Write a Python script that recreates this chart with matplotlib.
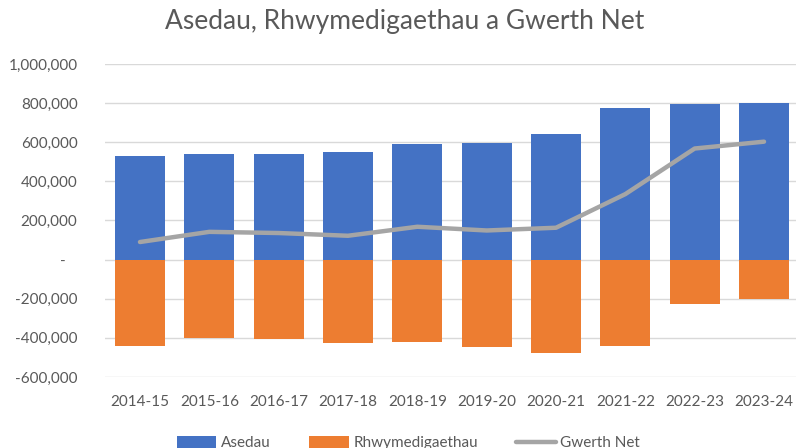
import matplotlib.pyplot as plt
import numpy as np
from matplotlib.ticker import FuncFormatter, MultipleLocator

plt.rcParams['font.family'] = ['Lato', 'DejaVu Sans']

years = ['2014-15', '2015-16', '2016-17', '2017-18', '2018-19',
         '2019-20', '2020-21', '2021-22', '2022-23', '2023-24']
asedau = [529000, 539000, 539000, 550000, 590000, 595000, 641000, 777000, 794000, 803000]
rhwymedigaethau = [-441000, -400000, -405000, -425000, -420000, -446000, -477000, -441000, -227000, -200000]
gwerth_net = [90000, 142000, 136000, 122000, 168000, 149000, 163000, 335000, 568000, 603000]

W, H = 796, 448
fig = plt.figure(figsize=(W / 100, H / 100), dpi=100)
ax = fig.add_axes([105.3 / W, 1 - 377 / H, 693.4 / W, 313 / H])

x = np.arange(len(years))
b1 = ax.bar(x, asedau, width=0.72, color='#4472C4', label='Asedau', zorder=2)
b2 = ax.bar(x, rhwymedigaethau, width=0.72, color='#ED7D31', label='Rhwymedigaethau', zorder=2)
l1, = ax.plot(x, gwerth_net, color='#A5A5A5', lw=3.2, solid_capstyle='round',
              solid_joinstyle='round', label='Gwerth Net', zorder=3)

ax.set_xlim(-0.5, len(years) - 0.5)
ax.set_ylim(-600000, 1000000)
ax.yaxis.set_major_locator(MultipleLocator(200000))


def fmt(v, pos):
    if abs(v) < 1:
        return '-   '
    return f'{v:,.0f}'


ax.yaxis.set_major_formatter(FuncFormatter(fmt))
ax.set_xticks(x)
ax.set_xticklabels(years)
ax.tick_params(axis='both', length=0, labelsize=11, colors='#595959')
ax.tick_params(axis='x', pad=13)
ax.tick_params(axis='y', pad=20)
ax.grid(axis='y', color='#D9D9D9', lw=1, zorder=0)
for s in ax.spines.values():
    s.set_visible(False)

fig.text(0.509, 1 - 22 / H, 'Asedau, Rhwymedigaethau a Gwerth Net',
         ha='center', va='center', fontsize=19, color='#595959')

# legend sits at the very bottom, partly cut off like the original
fig.legend([b1, b2, l1], ['Asedau', 'Rhwymedigaethau', 'Gwerth Net'],
           loc='center', bbox_to_anchor=(0.513, 1 - 443 / H), ncol=3,
           frameon=False, fontsize=11, labelcolor='#595959',
           handlelength=2.6, handleheight=0.9, columnspacing=2.5, handletextpad=0.3)

fig.savefig('out.png', dpi=100)
